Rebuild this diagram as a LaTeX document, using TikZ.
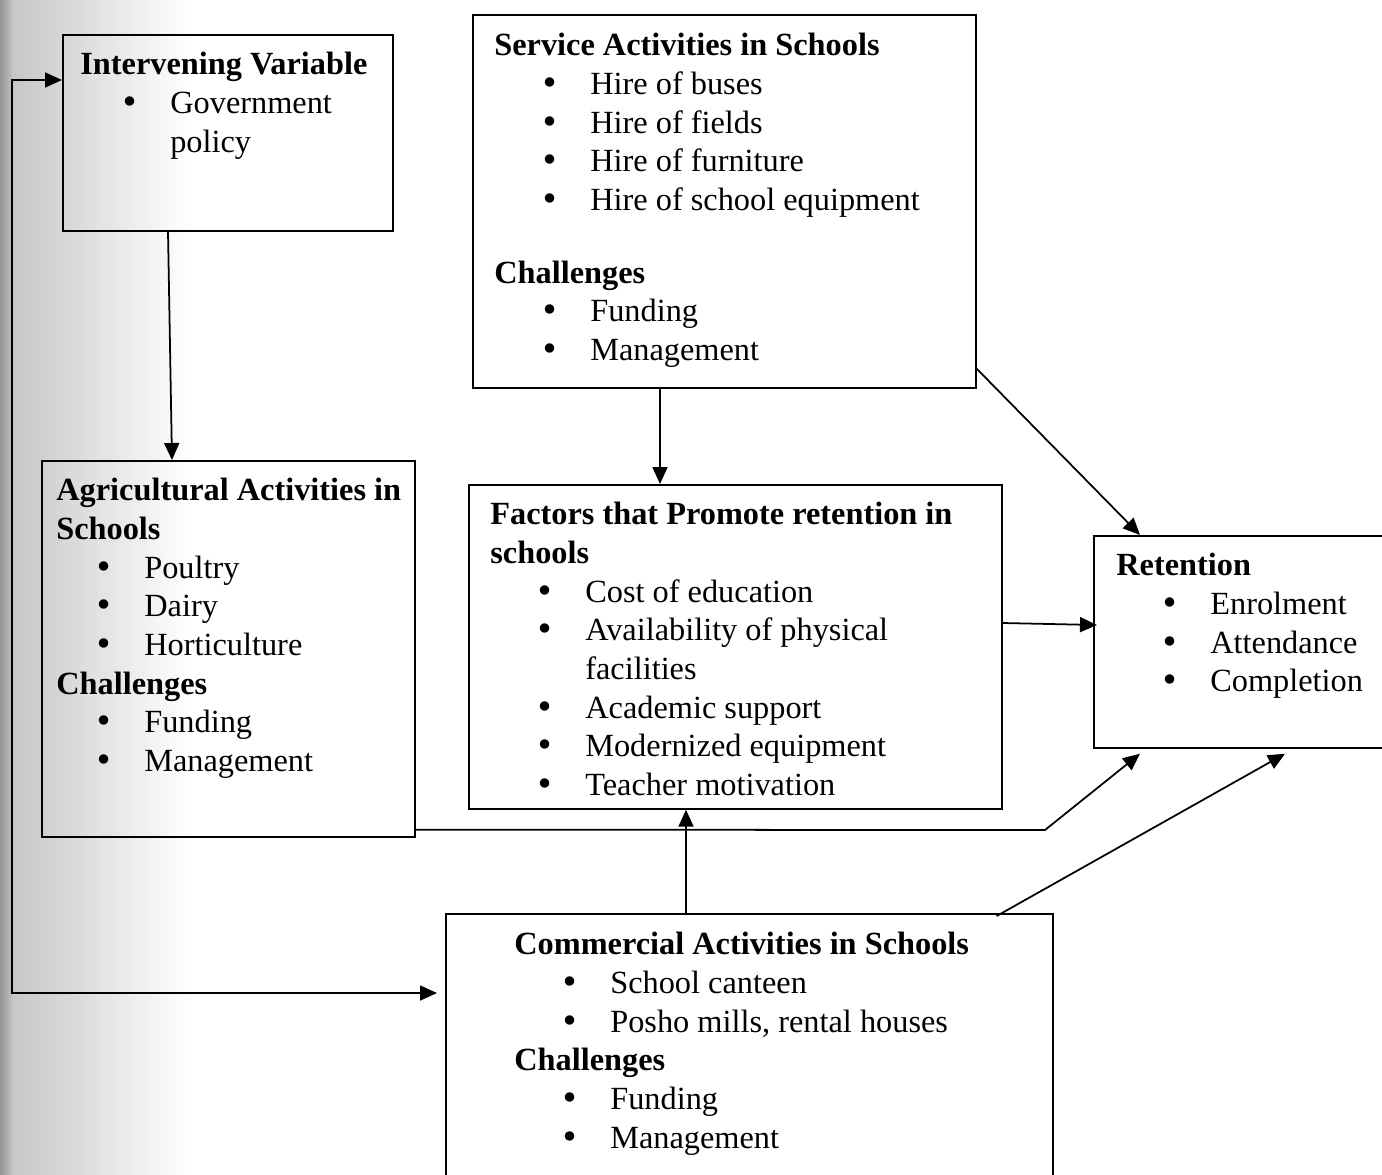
\documentclass[tikz,border=0pt]{standalone}
\usepackage{fontspec}
\setmainfont{Liberation Serif}
\newfontfamily\bulfont{DejaVu Sans}
\usepackage{tikz}
\usetikzlibrary{arrows.meta,calc,positioning}

\newcommand{\bul}[2][1.02cm]{\hspace*{#1}\makebox[0.9cm][l]{\hspace*{-0.1cm}{\bulfont •}}#2}

\begin{document}
\begin{tikzpicture}[x=0.02cm,y=-0.02cm,
        >={Triangle[length=0.34cm,width=0.3cm]},
        box/.style={draw, line width=1pt, anchor=north west, inner sep=0pt},
        txt/.style={anchor=north west, inner sep=0pt, align=left,
                    font=\fontsize{18.4}{22}\selectfont},
        conn/.style={line width=1pt}]
                \clip (0,0) rectangle (1382,1174);
                \shade[left color=black!42, right color=black!24] (0,0) rectangle (12,1174);
                \shade[left color=black!22, right color=white] (12,0) rectangle (190,1174);
                \node[box, minimum width=6.6cm, minimum height=3.92cm] (iv) at (62,34) {};
                \node[box, minimum width=10.06cm, minimum height=7.46cm] (svc) at (472,14) {};
                \node[box, minimum width=7.46cm, minimum height=7.52cm] (agr) at (41,460) {};
                \node[box, minimum width=10.66cm, minimum height=6.48cm] (fac) at (468,484) {};
                \node[box, minimum width=6.6cm, minimum height=4.24cm] (ret) at (1093,535) {};
                \node[box, minimum width=12.14cm, minimum height=6.2cm] (com) at (445,913) {};
                \node[txt] (ivt) at ($(iv.north west)+(18,18)$) {\textbf{Intervening Variable}\\
                    \bul[0.9cm]{Government}\\
                    \hspace*{1.8cm}policy};
                \node[txt] (svct) at ($(svc.north west)+(22,19)$) {\textbf{Service Activities in Schools}\\
                    \bul{Hire of buses}\\
                    \bul{Hire of fields}\\
                    \bul{Hire of furniture}\\
                    \bul{Hire of school equipment}\\[0.68cm]
                    \textbf{Challenges}\\
                    \bul{Funding}\\
                    \bul{Management}};
                \node[txt] (agrt) at ($(agr.north west)+(15,18)$) {\textbf{Agricultural Activities in}\\
                    \textbf{Schools}\\
                    \bul[0.86cm]{Poultry}\\
                    \bul[0.86cm]{Dairy}\\
                    \bul[0.86cm]{Horticulture}\\
                    \textbf{Challenges}\\
                    \bul[0.86cm]{Funding}\\
                    \bul[0.86cm]{Management}};
                \node[txt] (fact) at ($(fac.north west)+(22,18)$) {\textbf{Factors that Promote retention in}\\
                    \textbf{schools}\\
                    \bul[1cm]{Cost of education}\\
                    \bul[1cm]{Availability of physical}\\
                    \hspace*{1.9cm}facilities\\
                    \bul[1cm]{Academic support}\\
                    \bul[1cm]{Modernized equipment}\\
                    \bul[1cm]{Teacher motivation}};
                \node[txt] (rett) at ($(ret.north west)+(23,18)$) {\textbf{Retention}\\
                    \bul[0.98cm]{Enrolment}\\
                    \bul[0.98cm]{Attendance}\\
                    \bul[0.98cm]{Completion}};
                \node[txt] (comt) at ($(com.north west)+(69,19)$) {\textbf{Commercial Activities in Schools}\\
                    \bul{School canteen}\\
                    \bul{Posho mills, rental houses}\\
                    \textbf{Challenges}\\
                    \bul{Funding}\\
                    \bul{Management}};
                \coordinate (lp) at (12,80);
                \coordinate (cn) at (1045,830);
                \draw[conn, ->] ($(iv.south west)+(106,0)$) -- ($(agr.north west)+(131,0)$);
                \draw[conn, ->] ($(svc.south west)+(188,0)$) -- ($(fac.north west)+(192,0)$);
                \draw[conn, ->] ($(svc.south east)+(0,-20)$) -- ($(ret.north west)+(47,0)$);
                \draw[conn, ->] ($(fac.north east)+(0,139)$) -- ($(ret.north west)+(4,90)$);
                \draw[conn, ->] ($(com.north west)+(241,0)$) -- ($(fac.south west)+(218,0)$);
                \draw[conn, ->] ($(agr.south east)+(0,-8)$) -- (cn) -- ($(ret.south west)+(47,5)$);
                \draw[conn, ->] ($(com.north east)+(-57,3)$) -- ($(ret.south west)+(192,5)$);
                \draw[conn, <->] ($(iv.north west)+(0,46)$) -- (lp) |- ($(com.north west)+(-8,80)$);
            \end{tikzpicture}
\end{document}
